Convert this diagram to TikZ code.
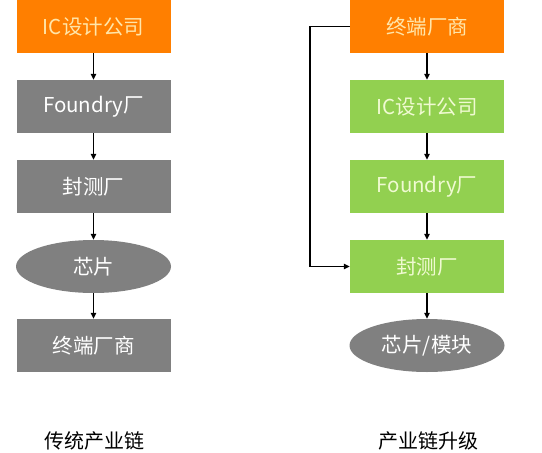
\documentclass[tikz,border=0pt]{standalone}
\usepackage{fontspec}
\setmainfont{Noto Sans CJK SC}
\usetikzlibrary{shapes.geometric,arrows.meta}
\definecolor{orng}{RGB}{255,127,0}
\definecolor{gry}{RGB}{128,128,128}
\definecolor{grn}{RGB}{146,208,80}
\definecolor{otxt}{RGB}{255,230,170}
\definecolor{gtxt}{RGB}{240,250,210}
\tikzset{
  box/.style={rectangle, minimum width=154pt, minimum height=53pt, inner sep=0pt, font=\fontsize{20.5}{24}\selectfont},
  obox/.style={box, fill=orng, text=otxt},
  gbox/.style={box, fill=gry, text=white},
  nbox/.style={box, fill=grn, text=gtxt},
  oval/.style={ellipse, minimum width=155pt, minimum height=53pt, inner sep=0pt, fill=gry, text=white, font=\fontsize{20.5}{24}\selectfont},
  conn/.style={draw=black, line width=1.2pt, -{Triangle[length=6pt,width=5.5pt]}},
  captext/.style={font=\fontsize{20}{24}\selectfont, text=black}
}
\begin{document}
\begin{tikzpicture}[x=1pt,y=-1pt]
\useasboundingbox[fill=white] (0,0) rectangle (542,453);
\node[obox] (l1) at (93.5,26.5) {IC设计公司};
\node[gbox] (l2) at (93.5,106.5) {Foundry厂};
\node[gbox] (l3) at (93.5,186.5) {封测厂};
\node[oval] (l4) at (93.5,266.5) {芯片};
\node[gbox] (l5) at (93.5,345.5) {终端厂商};
\node[captext] (lc) at (95,441) {传统产业链};
\node[obox] (r1) at (427,26.5) {终端厂商};
\node[nbox] (r2) at (427,106.5) {IC设计公司};
\node[nbox] (r3) at (427,186.5) {Foundry厂};
\node[nbox] (r4) at (427,266.5) {封测厂};
\node[oval] (r5) at (427,345.5) {芯片/模块};
\node[captext] (rc) at (428,441) {产业链升级};
\coordinate (k1) at (310,26.5);
\coordinate (k2) at (310,266.5);
\draw[conn] (l1) -- (l2);
\draw[conn] (l2) -- (l3);
\draw[conn] (l3) -- (l4);
\draw[conn] (l4) -- (l5);
\draw[conn] (r1) -- (r2);
\draw[conn] (r2) -- (r3);
\draw[conn] (r3) -- (r4);
\draw[conn] (r4) -- (r5);
\draw[conn] (r1.west) -- (k1) -- (k2) -- (r4.west);
\end{tikzpicture}
\end{document}
